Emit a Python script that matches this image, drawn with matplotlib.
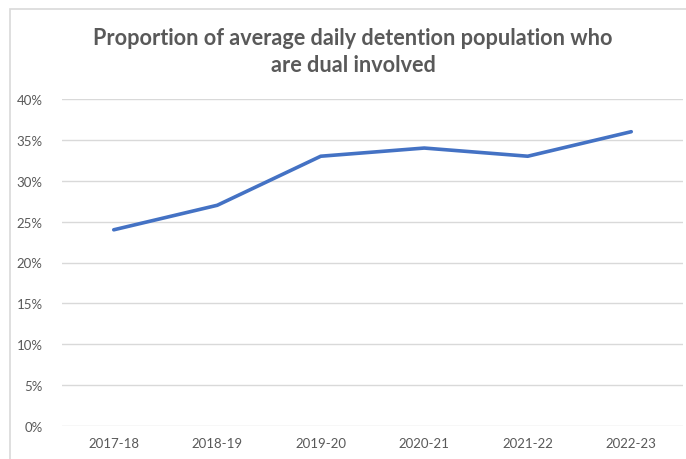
import matplotlib.pyplot as plt
from matplotlib.patches import Rectangle
from matplotlib.ticker import FuncFormatter

years = ['2017-18', '2018-19', '2019-20', '2020-21', '2021-22', '2022-23']
share = [0.24, 0.27, 0.33, 0.34, 0.33, 0.36]
yticks = [0, 0.05, 0.10, 0.15, 0.20, 0.25, 0.30, 0.35, 0.40]

plt.rcParams['font.family'] = ['Lato', 'DejaVu Sans']

fig = plt.figure(figsize=(6.86, 4.6), dpi=100)
fig.patches.append(Rectangle((10/686, -0.1), 1.2, 1 - 10/460 + 0.1, transform=fig.transFigure,
                             fill=False, edgecolor='#d9d9d9', lw=1.2))
ax = fig.add_axes([62/686, 1 - 427/460, 621/686, 327/460])

x = range(len(years))
ax.plot(x, share, color='#4472C4', lw=2.6, solid_capstyle='round')
ax.set_xlim(-0.5, len(years) - 0.5)
ax.set_ylim(0, 0.40)
ax.set_yticks(yticks)
ax.yaxis.set_major_formatter(FuncFormatter(lambda v, p: f'{v*100:.0f}%'))
ax.set_xticks(list(x))
ax.set_xticklabels(years)
ax.grid(axis='y', color='#d9d9d9', lw=1)
ax.set_axisbelow(True)
for s in ax.spines.values():
    s.set_visible(False)
ax.tick_params(length=0, colors='#595959', labelsize=9.5, pad=14)
ax.tick_params(axis='x', pad=8)

fig.text(353/686, 1 - 52/460, 'Proportion of average daily detention population who\nare dual involved',
         ha='center', va='center', fontsize=15.6, fontweight='bold', color='#595959',
         linespacing=1.4)

fig.savefig('out.png', dpi=100)
